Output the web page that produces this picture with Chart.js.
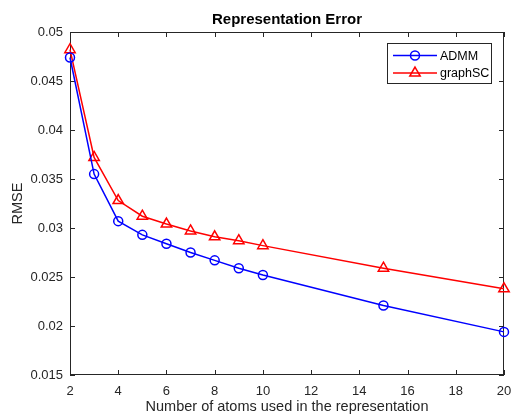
<!DOCTYPE html>
<html>
<head>
<meta charset="utf-8">
<script src="https://cdn.jsdelivr.net/npm/chart.js@4.4.0/dist/chart.umd.min.js"></script>
<style>
  html, body { margin: 0; padding: 0; background: #fff; }
  #wrap { width: 514px; height: 416px; }
</style>
</head>
<body>
<div id="wrap"><canvas id="errChart" width="514" height="416"></canvas></div>
<script>
Chart.defaults.font.family = "'Liberation Sans', Arial, sans-serif";
Chart.defaults.color = '#262626';

// number of atoms
let atoms = [2, 3, 4, 5, 6, 7, 8, 9, 10, 15, 20]
let admm_rmse = [0.0474, 0.0355, 0.0307, 0.0293, 0.0284, 0.0275, 0.0267, 0.0259, 0.0252, 0.0221, 0.0194]
let graphsc_rmse = [0.0482, 0.0372, 0.0328, 0.0312, 0.0304, 0.0297, 0.0291, 0.0287, 0.0282, 0.0259, 0.0238]
let series_names = ["ADMM", "graphSC"]
let chart_title = "Representation Error"

function toPoints(xs, ys) {
  let pts = []
  for (let i = 0; i < xs.length; i++) {
    pts.push({x: xs[i], y: ys[i]})
  }
  return pts
}

// box + inward ticks, matlab style
const framePlugin = {
  id: 'frame',
  beforeDatasetsDraw(chart) {
    const a = chart.chartArea
    const c = chart.ctx
    const tl = 5
    c.save()
    c.strokeStyle = '#262626'
    c.lineWidth = 1
    c.strokeRect(a.left + 0.5, a.top + 0.5, a.right - a.left - 1, a.bottom - a.top - 1)
    c.beginPath()
    chart.scales.x.ticks.forEach(t => {
      let px = Math.round(chart.scales.x.getPixelForValue(t.value)) + 0.5
      c.moveTo(px, a.bottom); c.lineTo(px, a.bottom - tl)
      c.moveTo(px, a.top); c.lineTo(px, a.top + tl)
    })
    chart.scales.y.ticks.forEach(t => {
      let py = Math.round(chart.scales.y.getPixelForValue(t.value)) + 0.5
      c.moveTo(a.left, py); c.lineTo(a.left + tl, py)
      c.moveTo(a.right, py); c.lineTo(a.right - tl, py)
    })
    c.stroke()
    c.restore()
  },
  afterDraw(chart) {
    const a = chart.chartArea
    const c = chart.ctx
    c.save()
    // title
    c.fillStyle = '#000'
    c.font = "bold 15px 'Liberation Sans', Arial, sans-serif"
    c.textAlign = 'center'
    c.textBaseline = 'middle'
    c.fillText(chart_title, (a.left + a.right) / 2, 20)

    // legend
    let bx = 387, by = 43, bw = 104, bh = 40
    c.fillStyle = '#fff'
    c.fillRect(bx, by, bw, bh)
    c.strokeStyle = '#262626'
    c.lineWidth = 1
    c.strokeRect(bx + 0.5, by + 0.5, bw, bh)
    c.font = "12.5px 'Liberation Sans', Arial, sans-serif"
    c.textAlign = 'left'
    chart.data.datasets.forEach((ds, i) => {
      let y = by + 12.5 + i * 17.5
      c.strokeStyle = ds.borderColor
      c.lineWidth = 1.5
      c.beginPath()
      c.moveTo(393, y); c.lineTo(437, y)
      c.stroke()
      c.fillStyle = 'rgba(0,0,0,0)'
      Chart.helpers.drawPoint(c, {pointStyle: ds.pointStyle, radius: ds.pointRadius, borderWidth: 1.5}, 415, y)
      c.fillStyle = '#000'
      c.fillText(ds.label, 440, y + 1)
    })
    c.restore()
  }
}

const ctx = document.getElementById('errChart').getContext('2d')

let myChart = new Chart(ctx, {
  type: 'scatter',
  data: {
    datasets: [{
      label: series_names[0],
      data: toPoints(atoms, admm_rmse),
      showLine: true,
      borderColor: '#0000ff',
      backgroundColor: 'rgba(0,0,0,0)',
      borderWidth: 1.5,
      pointStyle: 'circle',
      pointRadius: 4.5,
      pointBorderWidth: 1.5,
      clip: false
    }, {
      label: series_names[1],
      data: toPoints(atoms, graphsc_rmse),
      showLine: true,
      borderColor: '#ff0000',
      backgroundColor: 'rgba(0,0,0,0)',
      borderWidth: 1.5,
      pointStyle: 'triangle',
      pointRadius: 6,
      pointBorderWidth: 1.5,
      clip: false
    }]
  },
  options: {
    responsive: false,
    animation: false,
    layout: { padding: { top: 32, right: 10, left: 0, bottom: 0 } },
    plugins: {
      legend: { display: false },
      tooltip: { enabled: false }
    },
    scales: {
      x: {
        type: 'linear',
        min: 2,
        max: 20,
        grid: { display: false, drawTicks: false },
        border: { display: false },
        ticks: { stepSize: 2, padding: 9, font: { size: 13 }, maxRotation: 0 },
        title: {
          display: true,
          text: 'Number of atoms used in the representation',
          font: { size: 14.5 },
          padding: { top: 0, bottom: 0 }
        },
        afterFit(scale) {
          scale.height = 41
          scale.paddingLeft = 0
          scale.paddingRight = 0
        }
      },
      y: {
        min: 0.015,
        max: 0.05,
        grid: { display: false, drawTicks: false },
        border: { display: false },
        ticks: {
          stepSize: 0.005,
          padding: 7,
          font: { size: 13 },
          callback: v => parseFloat(v.toFixed(4)).toString()
        },
        title: {
          display: true,
          text: 'RMSE',
          font: { size: 14.5 },
          padding: { top: 9, bottom: 0 }
        },
        afterFit(scale) {
          scale.width = 70
          scale.paddingTop = 0
          scale.paddingBottom = 0
        }
      }
    }
  },
  plugins: [framePlugin]
})
</script>
</body>
</html>
